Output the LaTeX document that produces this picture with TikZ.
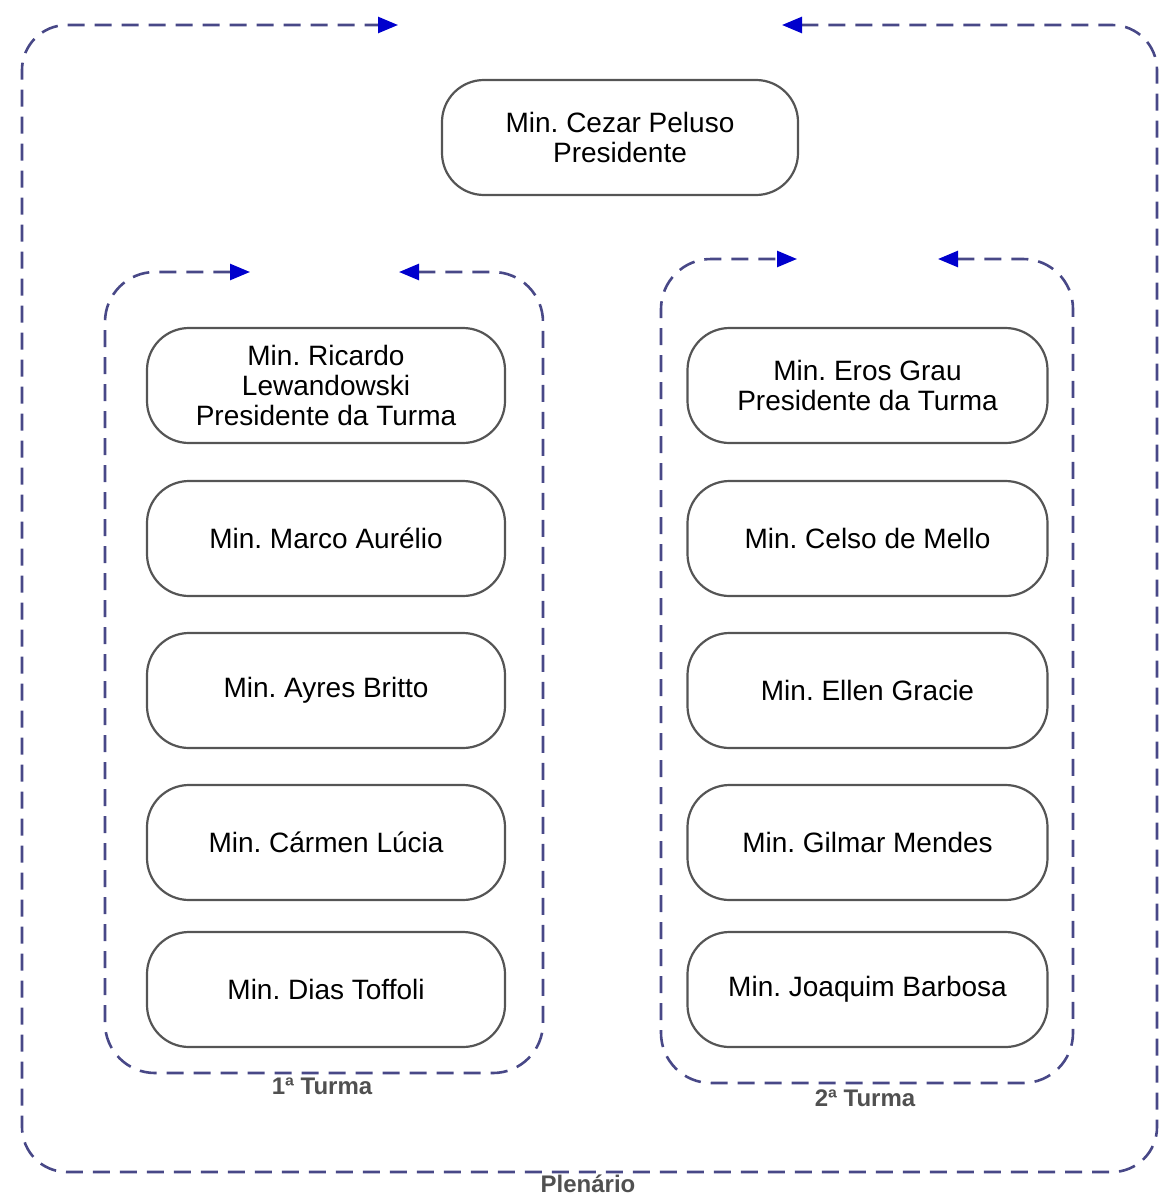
\documentclass[tikz,border=0pt]{standalone}
\usepackage{fontspec}
\setmainfont{Liberation Sans}
\usetikzlibrary{arrows.meta}
\definecolor{dashcol}{RGB}{72,72,135}
\definecolor{tipcol}{RGB}{0,0,205}
\definecolor{boxcol}{RGB}{85,85,85}
\definecolor{labcol}{RGB}{80,80,80}
\frenchspacing
\begin{document}
\begin{tikzpicture}[x=1pt,y=-1pt,
  minbox/.style={draw=boxcol, line width=2.2pt, rounded corners=42pt,
    minimum height=115pt, inner sep=0pt, align=center,
    font=\fontsize{28}{30}\selectfont},
  leftbox/.style={minbox, minimum width=358pt},
  rightbox/.style={minbox, minimum width=360pt},
  frame/.style={draw=dashcol, line width=2.6pt, dash pattern=on 17pt off 10pt,
    arrows={Triangle[length=20pt,width=16pt,color=tipcol]-Triangle[length=20pt,width=16pt,color=tipcol]}},
  grouplabel/.style={text=labcol, inner sep=0pt, font=\bfseries\fontsize{24}{26}\selectfont}]
\useasboundingbox (0,0) rectangle (1159,1196);

% President
\node[minbox, minimum width=356pt] (pres) at (620,137.5) {Min. Cezar Peluso\\Presidente};

% 1a Turma
\node[leftbox] (l1) at (326,385.5) {Min. Ricardo\\Lewandowski\\Presidente da Turma};
\node[leftbox] (l2) at (326,538.5) {Min. Marco Aurélio};
\node[leftbox] (l3) at (326,690.5) {Min. Ayres Britto};
\node[leftbox] (l4) at (326,842.5) {Min. Cármen Lúcia};
\node[leftbox] (l5) at (326,989.5) {Min. Dias Toffoli};

% 2a Turma
\node[rightbox] (r1) at (867.5,385.5) {Min. Eros Grau\\Presidente da Turma};
\node[rightbox] (r2) at (867.5,538.5) {Min. Celso de Mello};
\node[rightbox] (r3) at (867.5,690.5) {Min. Ellen Gracie};
\node[rightbox] (r4) at (867.5,842.5) {Min. Gilmar Mendes};
\node[rightbox] (r5) at (867.5,989.5) {Min. Joaquim Barbosa};

% frame end points
\coordinate (pS) at (782,25);
\coordinate (pE) at (398,25);
\coordinate (aS) at (399,272);
\coordinate (aE) at (250,272);
\coordinate (bS) at (938,259);
\coordinate (bE) at (797,259);

% Plenario loop
\draw[frame, rounded corners=45pt] (pS) -- (1157,25) -- (1157,1172) -- (22,1172) -- (22,25) -- (pE);
% 1a Turma loop
\draw[frame, rounded corners=50pt] (aS) -- (543,272) -- (543,1073) -- (105,1073) -- (105,272) -- (aE);
% 2a Turma loop
\draw[frame, rounded corners=50pt] (bS) -- (1073,259) -- (1073,1083) -- (661,1083) -- (661,259) -- (bE);

% labels
\node[grouplabel] (lab1) at (322,1086) {1ª Turma};
\node[grouplabel] (lab2) at (865,1098) {2ª Turma};
\node[grouplabel] (lab3) at (588,1184) {Plenário};
\end{tikzpicture}
\end{document}
